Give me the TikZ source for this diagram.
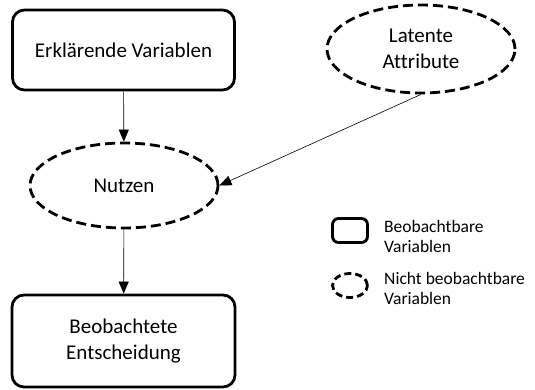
\documentclass[tikz,border=0pt]{standalone}
\usepackage{fontspec}
\setmainfont{Carlito}[Ligatures=NoCommon]
\usetikzlibrary{shapes.geometric,arrows.meta}
\begin{document}
\begin{tikzpicture}[x=1pt,y=-1pt,
  obs/.style={draw,line width=2.8pt,rounded corners=12pt,inner sep=0pt,align=center,font=\fontsize{21}{25.5}\selectfont},
  latent/.style={draw,ellipse,line width=2.8pt,dash pattern=on 10pt off 5pt,inner sep=0pt,align=center,font=\fontsize{21}{25.5}\selectfont},
  conn/.style={line width=0.6pt,-{Triangle[width=10pt,length=12pt]}},
  legtext/.style={anchor=west,align=left,inner sep=0pt,font=\fontsize{17.5}{20}\selectfont}]
\useasboundingbox (0,0) rectangle (535,389);
\node[obs,minimum width=222pt,minimum height=80pt] (erk) at (123.5,50) {Erklärende Variablen};
\node[latent,minimum width=188pt,minimum height=85pt] (nutzen) at (124,185.5) {Nutzen};
\node[latent,minimum width=188pt,minimum height=88pt] (lat) at (421,49) {Latente\\Attribute};
\node[obs,minimum width=223pt,minimum height=92pt] (ent) at (123.5,341) {Beobachtete\\Entscheidung};
\draw[conn] (erk) -- (nutzen);
\draw[conn] (nutzen) -- (ent);
\draw[conn] (lat.south) -- (nutzen.east);
\node[draw,line width=2.8pt,rounded corners=6pt,minimum width=35pt,minimum height=24pt,inner sep=0pt] (legobs) at (350,230.5) {};
\node[draw,ellipse,line width=2.8pt,dash pattern=on 7pt off 4pt,minimum width=35pt,minimum height=24pt,inner sep=0pt] (leglat) at (350,285.5) {};
\node[legtext] (legobstext) at (384,236) {Beobachtbare\\Variablen};
\node[legtext] (leglattext) at (384,288) {Nicht beobachtbare\\Variablen};
\end{tikzpicture}
\end{document}
